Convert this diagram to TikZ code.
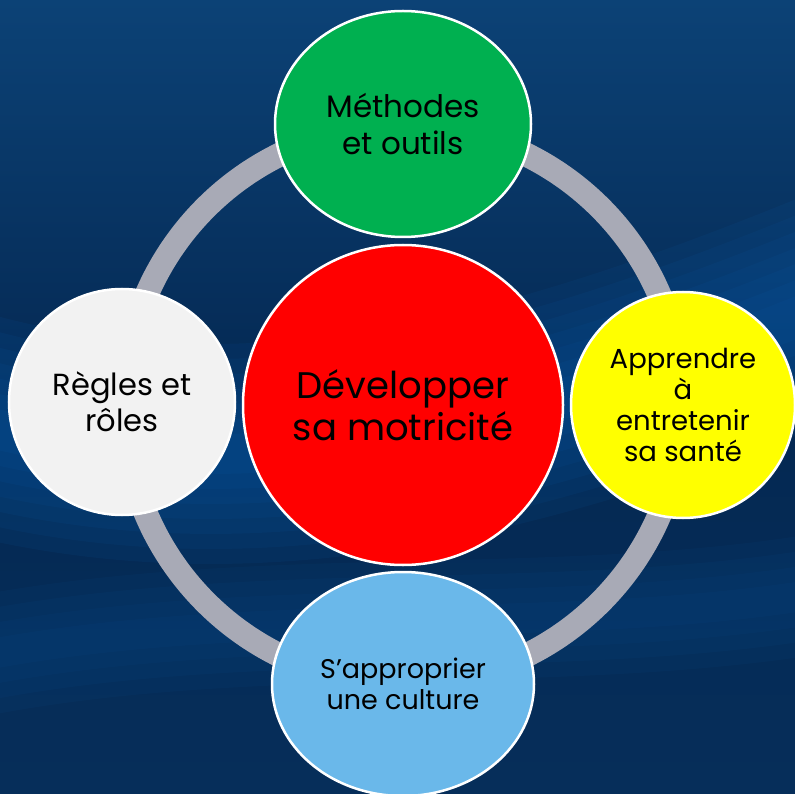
\documentclass[tikz,border=0pt]{standalone}
\usepackage{fontspec}
\setmainfont{Poppins}
\usepackage{tikz}
\usetikzlibrary{shapes.geometric,positioning}
\definecolor{bgtop}{RGB}{12,66,118}
\definecolor{bgmid}{RGB}{4,40,82}
\definecolor{bgbot}{RGB}{6,46,90}
\definecolor{bgwave}{RGB}{12,98,180}
\definecolor{ringgray}{RGB}{168,170,182}
\definecolor{cyclegreen}{RGB}{0,176,80}
\definecolor{cyclered}{RGB}{255,0,0}
\definecolor{cycleyellow}{RGB}{255,255,0}
\definecolor{cyclewhite}{RGB}{242,242,242}
\definecolor{cycleblue}{RGB}{106,184,234}

\begin{document}
\begin{tikzpicture}[
    x=1pt, y=-1pt,
    bubble/.style={ellipse, draw=white, line width=2.5pt, inner sep=0pt, align=center, text=black},
    ring/.style={draw=ringgray, line width=24pt}
]
    % Background
    \useasboundingbox (0,0) rectangle (795,794);
    \shade[top color=bgtop, bottom color=bgbot, middle color=bgmid] (0,0) rectangle (795,794);
    \begin{scope}
        \clip (0,0) rectangle (795,794);
        \foreach \w in {220pt,190pt,160pt,130pt,100pt,70pt,40pt}
            \draw[bgwave, line width=\w, opacity=0.09] (-40,420) .. controls (250,500) and (520,430) .. (840,300);
        \foreach \w in {120pt,90pt,60pt,30pt}
            \draw[bgwave, line width=\w, opacity=0.06] (-40,660) .. controls (250,600) and (560,640) .. (840,590);
    \end{scope}

    % Ring
    \coordinate (hub) at (403,405);
    \draw[ring] (hub) circle (279);

    % Nodes
    \node[bubble, fill=cyclered, minimum width=320pt, minimum height=320pt,
          font=\fontsize{37pt}{42pt}\selectfont] (dev) at (hub) {Développer\\sa motricité};
    \node[bubble, fill=cyclegreen, minimum width=256pt, minimum height=226pt,
          font=\fontsize{31pt}{37pt}\selectfont] (methodes) at (403,124) {Méthodes\\et outils};
    \node[bubble, fill=cycleyellow, minimum width=224pt, minimum height=226pt,
          font=\fontsize{27.5pt}{31pt}\selectfont] (sante) at (683,405) {Apprendre\\à\\entretenir\\sa santé};
    \node[bubble, fill=cyclewhite, minimum width=226pt, minimum height=226pt,
          font=\fontsize{30.5pt}{36pt}\selectfont] (regles) at (122,402) {Règles et\\rôles};
    \node[bubble, fill=cycleblue, minimum width=262pt, minimum height=224pt,
          font=\fontsize{27pt}{31pt}\selectfont] (culture) at (403,684) {S’approprier\\une culture};

\end{tikzpicture}
\end{document}
